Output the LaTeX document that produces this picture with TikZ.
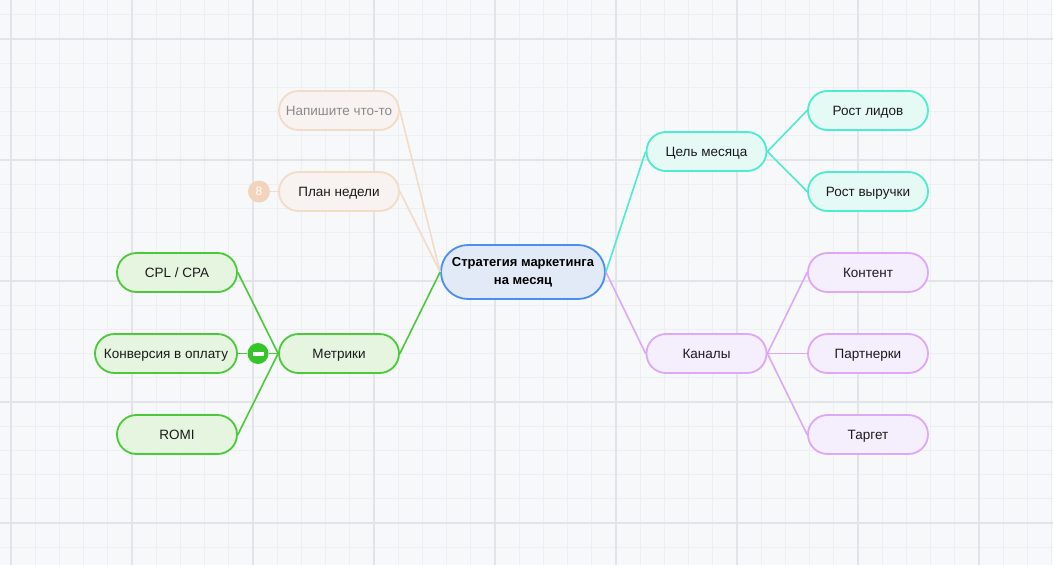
\documentclass[tikz,border=0pt]{standalone}
\usepackage{fontspec}
\setmainfont{Liberation Sans}
\definecolor{bg}{HTML}{F7F8FA}
\definecolor{gridminor}{HTML}{EEEFF2}
\definecolor{gridmajor}{HTML}{E3E4E7}
\definecolor{bluel}{HTML}{4A8FF0}
\definecolor{bluef}{HTML}{E2EAF8}
\definecolor{greenl}{HTML}{4CC93A}
\definecolor{greenf}{HTML}{E5F5E0}
\definecolor{teall}{HTML}{4DEBCF}
\definecolor{tealf}{HTML}{E6FAF5}
\definecolor{purpl}{HTML}{DDA8F5}
\definecolor{purpf}{HTML}{F5EEFC}
\definecolor{beigel}{HTML}{F2DCC8}
\definecolor{beigef}{HTML}{F8F3F0}
\definecolor{badge}{HTML}{F2D3BC}
\definecolor{btn}{HTML}{36C42A}
\definecolor{txt}{HTML}{1A1A1A}
\definecolor{graytxt}{HTML}{8A8A8A}
\tikzset{
  topic/.style={draw, line width=1.8pt, rounded corners=19.5pt, minimum width=120pt, minimum height=39pt, inner sep=0pt, font=\fontsize{13.5}{16}\selectfont, text=txt, align=center, text height=9.6pt, text depth=0pt},
  gtopic/.style={topic, draw=greenl, fill=greenf},
  ttopic/.style={topic, draw=teall, fill=tealf},
  ptopic/.style={topic, draw=purpl, fill=purpf},
  btopic/.style={topic, draw=beigel, fill=beigef},
  gline/.style={draw=greenl, line width=1.6pt},
  tline/.style={draw=teall, line width=1.6pt},
  pline/.style={draw=purpl, line width=1.6pt},
  bline/.style={draw=beigel, line width=1.6pt},
}
\begin{document}
\begin{tikzpicture}[x=1pt,y=-1pt]
\fill[bg] (0,0) rectangle (1053,565);
\useasboundingbox (0,0) rectangle (1053,565);
% grid
\foreach \i in {0,...,43} {
  \pgfmathsetmacro{\xx}{11+24.2*\i}
  \draw[gridminor, line width=1pt] (\xx,0) -- (\xx,565);
}
\foreach \i in {-1,...,22} {
  \pgfmathsetmacro{\yy}{39+24.2*\i}
  \draw[gridminor, line width=1pt] (0,\yy) -- (1053,\yy);
}
\foreach \i in {0,...,8} {
  \pgfmathsetmacro{\xx}{11+121*\i}
  \draw[gridmajor, line width=2pt] (\xx,0) -- (\xx,565);
}
\foreach \i in {0,...,4} {
  \pgfmathsetmacro{\yy}{39+121*\i}
  \draw[gridmajor, line width=2pt] (0,\yy) -- (1053,\yy);
}
% nodes
\node[draw=bluel, fill=bluef, line width=1.8pt, minimum width=164pt, minimum height=54pt, rounded corners=27pt, inner sep=0pt, align=center, text=black, font=\fontsize{13}{18}\selectfont\bfseries] (root) at (523,272) {Стратегия маркетинга\\на месяц};
\node[btopic, text=graytxt] (write) at (339,110.5) {Напишите что-то};
\node[btopic] (plan) at (339,191.5) {План недели};
\node[gtopic] (metr) at (339,353.5) {Метрики};
\node[gtopic] (cpl) at (177,272.5) {CPL / CPA};
\node[gtopic, minimum width=142pt] (conv) at (166,353.5) {Конверсия в оплату};
\node[gtopic] (romi) at (177,434.5) {ROMI};
\node[ttopic] (goal) at (706.5,151.5) {Цель месяца};
\node[ttopic] (leads) at (868,110.5) {Рост лидов};
\node[ttopic] (rev) at (868,191.5) {Рост выручки};
\node[ptopic] (chan) at (706.5,353.5) {Каналы};
\node[ptopic] (cont) at (868,272.5) {Контент};
\node[ptopic] (part) at (868,353.5) {Партнерки};
\node[ptopic] (targ) at (868,434.5) {Таргет};
% badge and button
\node[circle, fill=badge, minimum size=22pt, inner sep=0pt, text=white, font=\fontsize{12}{14}\selectfont, text height=8.6pt, text depth=0pt] (badge8) at (259,191.5) {8};
\node[circle, fill=btn, minimum size=21pt, inner sep=0pt] (minus) at (258,353.5) {};
% connectors
\path[bline] (root.west) -- (write.east);
\path[bline] (root.west) -- (plan.east);
\path[bline] (badge8.east) -- (plan.west);
\path[gline] (root.west) -- (metr.east);
\path[gline] (metr.west) -- (cpl.east);
\path[gline] (metr.west) -- (minus.east);
\path[gline] (minus.west) -- (conv.east);
\path[gline] (metr.west) -- (romi.east);
\path[tline] (root.east) -- (goal.west);
\path[tline] (goal.east) -- (leads.west);
\path[tline] (goal.east) -- (rev.west);
\path[pline] (root.east) -- (chan.west);
\path[pline] (chan.east) -- (cont.west);
\path[pline] (chan.east) -- (part.west);
\path[pline] (chan.east) -- (targ.west);
\fill[white] ([xshift=-5.5pt,yshift=-2pt]minus.center) rectangle ([xshift=5.5pt,yshift=2pt]minus.center);
\end{tikzpicture}
\end{document}
